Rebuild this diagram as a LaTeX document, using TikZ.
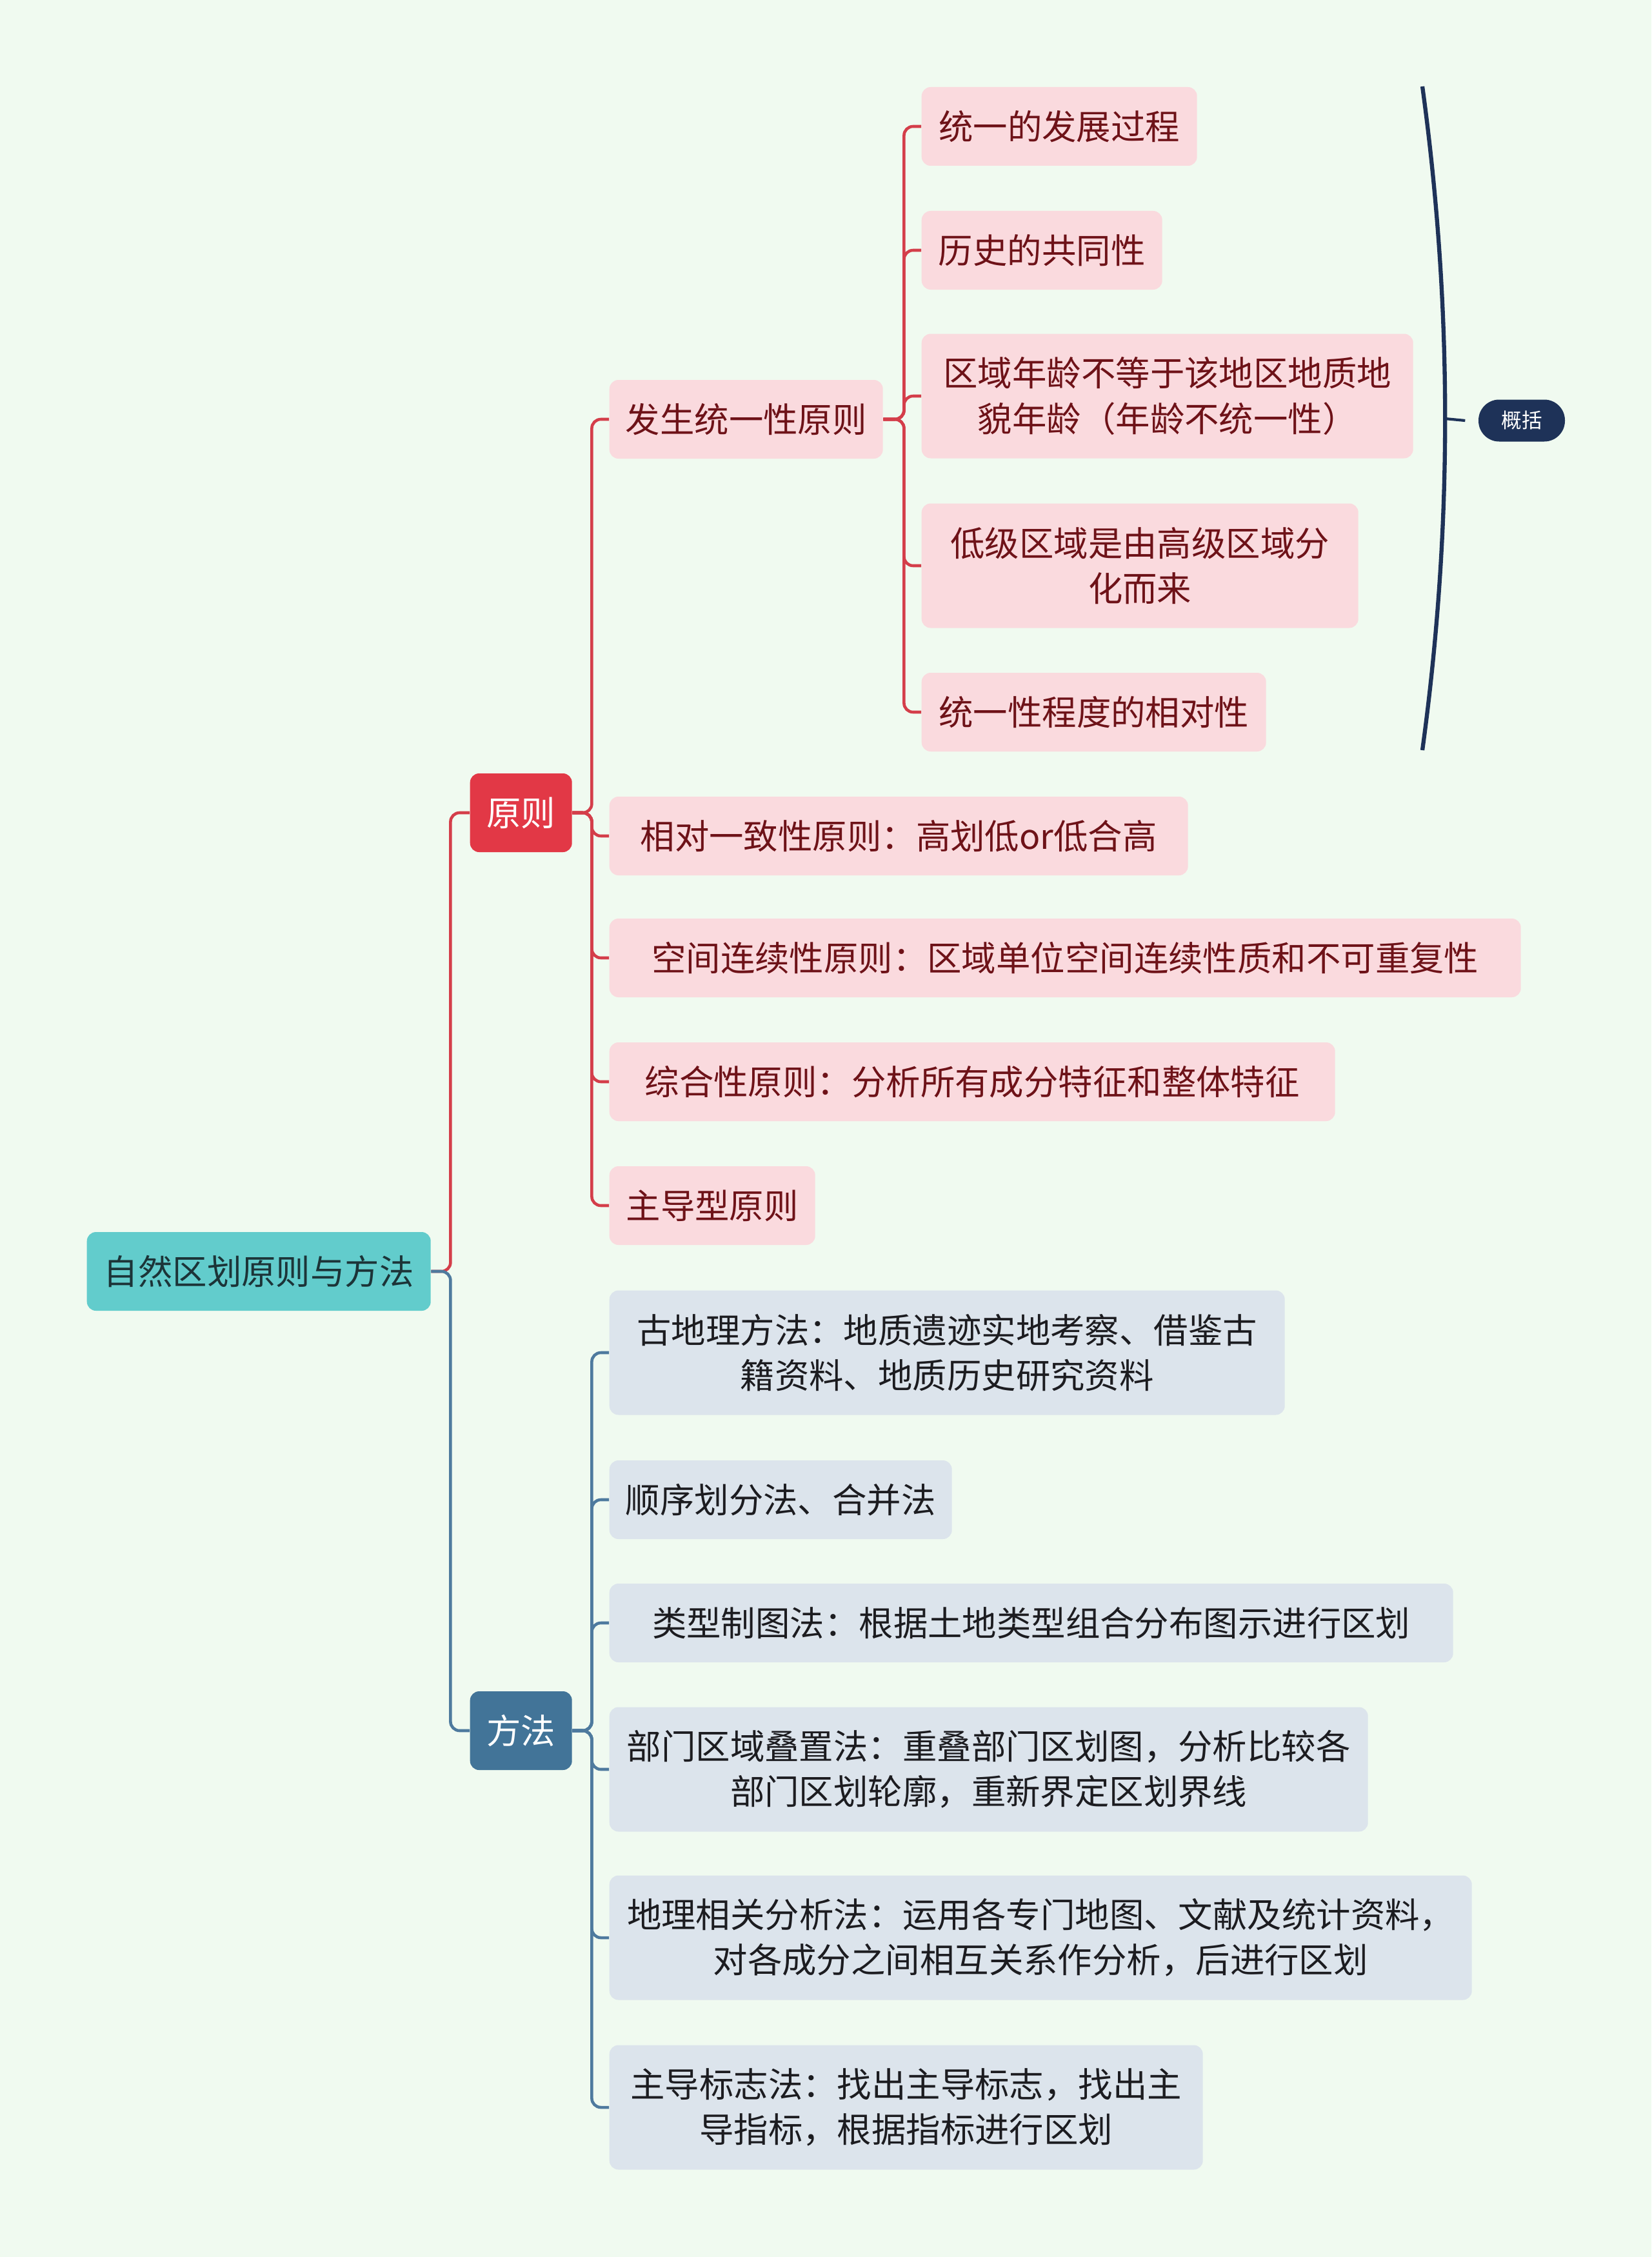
\documentclass[tikz,border=0pt]{standalone}
\usepackage{fontspec}
\newfontfamily\cjk{Noto Sans CJK SC}
\usetikzlibrary{positioning}
\definecolor{MintBg}{RGB}{240,250,240}
\definecolor{RootTeal}{RGB}{98,204,204}
\definecolor{RootText}{RGB}{28,52,56}
\definecolor{RuleRed}{RGB}{226,56,70}
\definecolor{RulePink}{RGB}{250,218,222}
\definecolor{RuleText}{RGB}{110,18,24}
\definecolor{LineRed}{RGB}{212,62,74}
\definecolor{WayBlue}{RGB}{66,116,152}
\definecolor{WayGrey}{RGB}{220,228,236}
\definecolor{WayText}{RGB}{28,28,32}
\definecolor{LineBlue}{RGB}{78,122,158}
\definecolor{SumNavy}{RGB}{30,50,88}

\tikzset{
  box/.style={font=\cjk\fontsize{15.2}{20}\selectfont, rounded corners=4pt,
    align=center, inner xsep=0.2cm, inner ysep=0pt, minimum height=1.22cm,
    anchor=west},
  twoline/.style={minimum height=1.93cm},
  rootbox/.style={box, fill=RootTeal, text=RootText},
  rulehead/.style={box, fill=RuleRed, text=white},
  rulebox/.style={box, fill=RulePink, text=RuleText},
  wayhead/.style={box, fill=WayBlue, text=white},
  waybox/.style={box, fill=WayGrey, text=WayText},
  sumbox/.style={font=\cjk\fontsize{9}{11}\selectfont, fill=SumNavy,
    text=white, rounded corners=0.32cm, minimum width=1.34cm,
    minimum height=0.65cm, inner sep=0pt},
  redlink/.style={draw=LineRed, line width=1.3pt, rounded corners=4pt},
  bluelink/.style={draw=LineBlue, line width=1.3pt, rounded corners=4pt},
}

\begin{document}
\begin{tikzpicture}
  \useasboundingbox (0,0) rectangle (25.60,-34.99);
  \fill[MintBg] (0,0) rectangle (25.60,-34.99);

  % root and the two main branches
  \node[rootbox, minimum width=5.33cm] (root) at (1.34,-19.71) {自然区划原则与方法};
  \node[rulehead, minimum width=1.58cm] (rule) at (7.28,-12.60) {原则};
  \node[wayhead, minimum width=1.58cm] (way) at (7.28,-26.83) {方法};

  % principles
  \node[rulebox, minimum width=4.24cm] (fsty) at (9.44,-6.50) {发生统一性原则};
  \node[rulebox, minimum width=8.97cm] (xdyz) at (9.44,-12.96) {相对一致性原则：高划低or低合高};
  \node[rulebox, minimum width=14.13cm] (kjlx) at (9.44,-14.85) {空间连续性原则：区域单位空间连续性质和不可重复性};
  \node[rulebox, minimum width=11.25cm] (zhx) at (9.44,-16.77) {综合性原则：分析所有成分特征和整体特征};
  \node[rulebox, minimum width=3.19cm] (zdx) at (9.44,-18.69) {主导型原则};

  \node[rulebox, minimum width=4.27cm] (tyfz) at (14.28,-1.96) {统一的发展过程};
  \node[rulebox, minimum width=3.73cm] (lsgt) at (14.28,-3.88) {历史的共同性};
  \node[rulebox, twoline, minimum width=7.62cm] (qynl) at (14.28,-6.14)
    {区域年龄不等于该地区地质地\\貌年龄（年龄不统一性）};
  \node[rulebox, twoline, minimum width=6.77cm] (djqy) at (14.28,-8.77)
    {低级区域是由高级区域分\\化而来};
  \node[rulebox, minimum width=5.34cm] (xdx) at (14.28,-11.04) {统一性程度的相对性};

  % methods
  \node[waybox, twoline, minimum width=10.47cm] (gdl) at (9.44,-20.97)
    {古地理方法：地质遗迹实地考察、借鉴古\\籍资料、地质历史研究资料};
  \node[waybox, minimum width=5.31cm] (sxhf) at (9.44,-23.25) {顺序划分法、合并法};
  \node[waybox, minimum width=13.08cm] (lxzt) at (9.44,-25.16) {类型制图法：根据土地类型组合分布图示进行区划};
  \node[waybox, twoline, minimum width=11.76cm] (bmdz) at (9.44,-27.43)
    {部门区域叠置法：重叠部门区划图，分析比较各\\部门区划轮廓，重新界定区划界线};
  \node[waybox, twoline, minimum width=13.37cm] (dlxg) at (9.44,-30.04)
    {地理相关分析法：运用各专门地图、文献及统计资料，\\对各成分之间相互关系作分析，后进行区划};
  \node[waybox, twoline, minimum width=9.20cm] (zdbz) at (9.44,-32.67)
    {主导标志法：找出主导标志，找出主\\导指标，根据指标进行区划};

  % connectors
  \draw[redlink] (root.east) -- ++(0.3,0) |- (rule.west);
  \draw[bluelink] (root.east) -- ++(0.3,0) |- (way.west);
  \foreach \c in {fsty,xdyz,kjlx,zhx,zdx}
    \draw[redlink] (rule.east) -- ++(0.3,0) |- (\c.west);
  \foreach \c in {tyfz,lsgt,qynl,djqy,xdx}
    \draw[redlink] (fsty.east) -- ++(0.32,0) |- (\c.west);
  \foreach \c in {gdl,sxhf,lxzt,bmdz,dlxg,zdbz}
    \draw[bluelink] (way.east) -- ++(0.3,0) |- (\c.west);

  % summary brace
  \coordinate (bt) at (22.05,-1.34);
  \coordinate (bb) at (22.05,-11.63);
  \coordinate (bm) at (22.40,-6.49);
  \node[sumbox] (gk) at (23.59,-6.52) {概括};
  \draw[SumNavy, line width=1.8pt] (bt) .. controls (22.52,-4.77) and (22.52,-8.20) .. (bb);
  \draw[SumNavy, line width=1.2pt] (bm) -- ([xshift=-0.2cm]gk.west);
\end{tikzpicture}
\end{document}
